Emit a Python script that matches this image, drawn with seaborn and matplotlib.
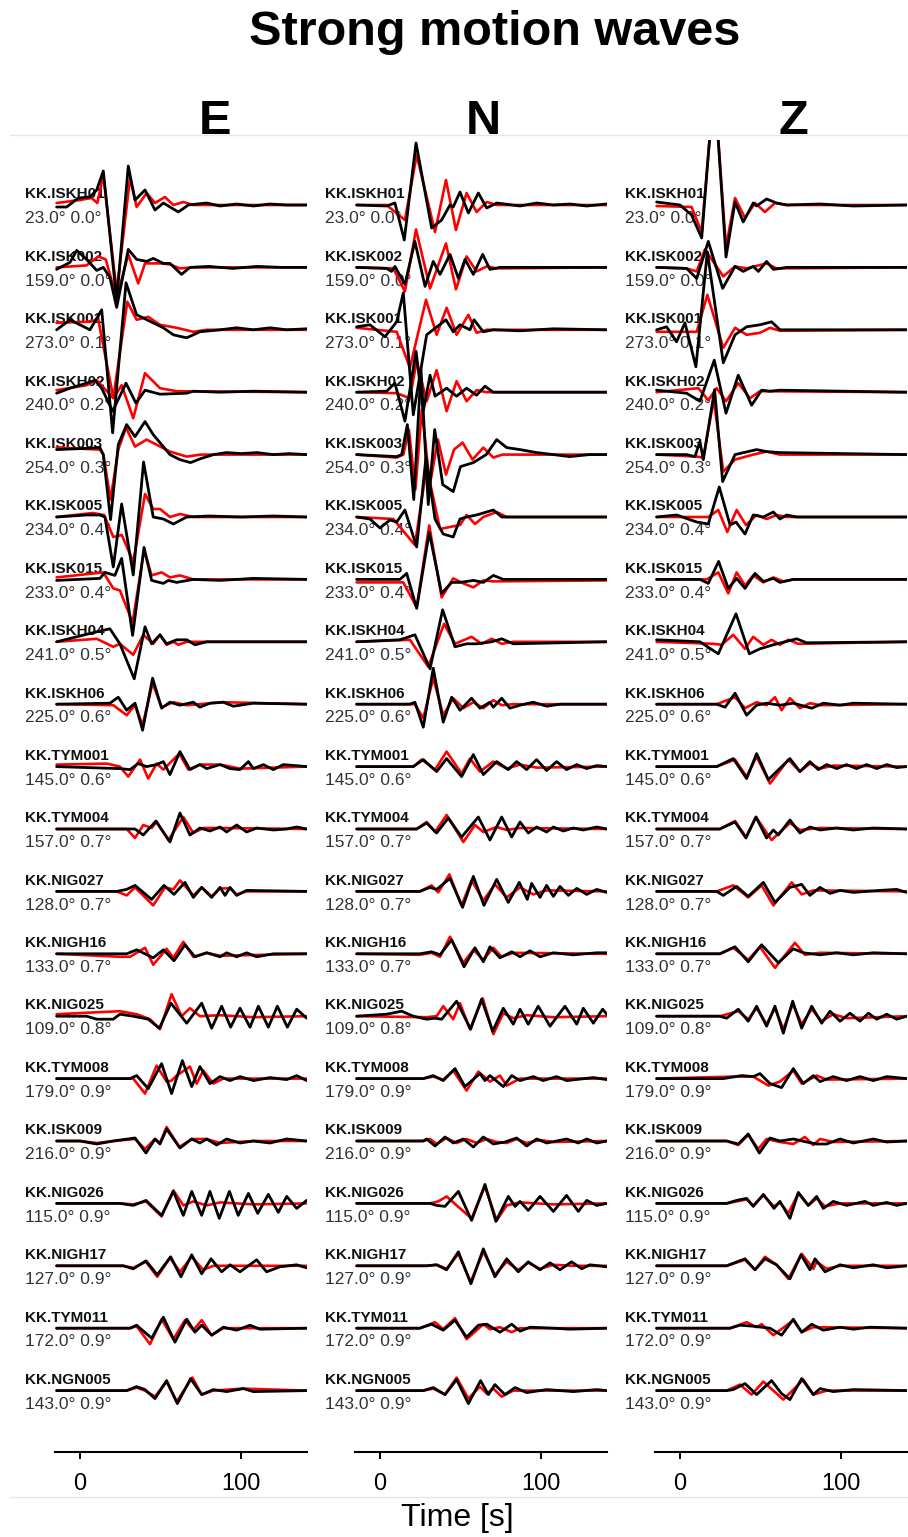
import matplotlib
matplotlib.use("Agg")
import matplotlib.pyplot as plt
from matplotlib.lines import Line2D
import pandas as pd
import seaborn as sns

# ---------------------------------------------------------------- stations
stations = ["KK.ISKH01", "KK.ISK002", "KK.ISK001", "KK.ISKH02", "KK.ISK003",
            "KK.ISK005", "KK.ISK015", "KK.ISKH04", "KK.ISKH06", "KK.TYM001",
            "KK.TYM004", "KK.NIG027", "KK.NIGH16", "KK.NIG025", "KK.TYM008",
            "KK.ISK009", "KK.NIG026", "KK.NIGH17", "KK.TYM011", "KK.NGN005"]
azimuths = [23.0, 159.0, 273.0, 240.0, 254.0, 234.0, 233.0, 241.0, 225.0, 145.0,
            157.0, 128.0, 133.0, 109.0, 179.0, 216.0, 115.0, 127.0, 172.0, 143.0]
distances = [0.0, 0.0, 0.1, 0.2, 0.3, 0.4, 0.4, 0.5, 0.6, 0.6,
             0.7, 0.7, 0.7, 0.8, 0.9, 0.9, 0.9, 0.9, 0.9, 0.9]
components = ["E", "N", "Z"]
time_ticks = [0, 100]

# ------------------------------------------------ waveforms: (time [s], amplitude)
obs_E = [
    [(-14.5,-2),(-8.3,-2),(-1,7),(6.2,8),(10.4,15),(14.5,34),(22.8,-95),(30,39),(34.2,5),(40.4,15),(46.6,-5),(51.8,2),(61.1,-7),(67.3,0),(78.7,2),(87,-1),(97.3,1),(107.7,-1),(118,1),(128.4,0),(140.8,0)],
    [(-14.5,-2),(-6.2,5),(-2,17),(4.1,8),(10.4,-3),(14.5,0),(18.6,-10),(22.8,-40),(30,18),(35.2,8),(41.4,6),(45.5,9),(51.8,4),(55.9,4),(63.1,-7),(68.3,0),(80,1),(95,-1),(110,1),(125,0),(140.8,0)],
    [(-14.5,0),(-6.2,10),(6.2,0),(13.5,20),(20.3,-103),(28.6,47),(35.2,15),(45.5,7),(51.8,2),(58,-5),(66.3,-8),(74.5,-2),(87,0),(97.3,2),(107.7,0),(118,2),(128.4,0),(140.8,1)],
    [(-14.5,-1),(-6.2,4),(4.1,9),(9.3,12),(13.5,4),(20.3,-19),(28.6,9),(34.8,-11),(40.4,2),(49.7,-2),(66.3,-1),(70.4,1),(87,0),(107.7,1),(140.8,0)],
    [(-14.5,5),(0,6),(12.4,7),(14.5,0),(19,-65),(23.8,10),(29,30),(34.2,18),(40.4,33),(45.5,20),(55.9,0),(62,-5),(68.7,-8),(75,-4),(83,0),(91,2),(100,1),(110,2),(120,0),(130,1),(140.8,0)],
    [(-14.5,0),(4.1,2),(12.4,2),(15.5,0),(20.7,-50),(25.9,13),(33.1,-58),(39.5,55),(45.5,0),(51.8,-2),(58,-7),(66.3,0),(80,1),(100,0),(120,1),(140.8,0)],
    [(-14.5,-1),(12.4,1),(15.5,7),(21.7,4),(25.9,21),(32.7,-56),(39.8,32),(44.5,-1),(51.8,-4),(54.9,-1),(60,-3),(70.4,0),(87,-1),(107.7,1),(140.8,0)],
    [(-14.5,0),(10.4,10),(18.6,13),(24.8,-2),(33.7,-37),(40.4,15),(44.5,-2),(49.7,7),(53.8,-2),(60,2),(66.3,2),(71.4,-3),(78.7,0),(140.8,0)],
    [(-14.5,0),(18.6,1),(23.8,7),(29,-6),(34.2,1),(38.9,-26),(45.1,26),(50.7,-4),(55.9,2),(62.1,-1),(70.4,2),(74.5,-3),(80.7,1),(89,2),(95.2,-2),(107.7,1),(140.8,0)],
    [(-14.5,0),(24.8,-2),(31.1,-3),(36.2,3),(41.4,0),(47.6,2),(51.8,5),(55.9,-8),(62.1,15),(68.3,-3),(74.5,2),(78.7,-2),(87,2),(93.2,-2),(99.4,-3),(104.6,5),(107.7,-2),(113.9,2),(120.1,-3),(126.3,2),(140.8,0)],
    [(-14.5,0),(29,0),(34.2,0),(39.3,-6),(47.2,8),(55.9,-13),(62.1,16),(68.3,-6),(74.5,1),(80.7,-2),(87,2),(91.1,-3),(97.3,4),(103.5,-3),(109.7,1),(120.1,-1),(128.4,0),(134.6,2),(140.8,0)],
    [(-14.5,0),(22.8,0),(29,2),(34.2,6),(44.5,-8),(52.2,6),(58.4,-3),(65.2,9),(70.4,-6),(75.6,4),(81.8,-6),(87,4),(90.1,-4),(93.2,4),(97.3,-4),(103.5,1),(140.8,0)],
    [(-14.5,0),(29,0),(35.2,4),(45.5,-4),(51.8,4),(58.4,-7),(65.2,9),(71.4,-3),(78.7,1),(87,-3),(91.1,1),(97.3,-3),(103.5,1),(109.7,-3),(120.1,0),(140.8,0)],
    [(-14.5,0),(4.1,0),(10.4,-3),(20.7,-3),(24.8,2),(33.1,0),(42.4,-3),(49.3,-12),(56.5,13),(66.3,-7),(75.6,13),(81.8,-12),(88,10),(93.6,-11),(99.4,8),(105.6,-11),(110.8,10),(117,-11),(122.6,10),(128.8,-11),(134.6,7),(140.8,-2)],
    [(-14.5,0),(31.1,0),(35.2,3),(42.4,-10),(50.7,15),(56.9,-15),(63.6,18),(69.4,-8),(74.5,12),(80.7,-5),(87,2),(93.2,-2),(99.4,2),(107.7,-2),(118,1),(128.4,-1),(134.6,3),(140.8,-2)],
    [(-14.5,0),(0,0),(10.4,-3),(20.7,0),(34.2,3),(41,-12),(46.6,2),(49.7,-3),(53.8,12),(62.1,-7),(69.4,2),(74.5,-2),(78.7,2),(84.9,-4),(91.1,2),(99.4,-2),(107.7,0),(118,-2),(128.4,2),(140.8,0)],
    [(-14.5,0),(24.8,0),(33.1,-2),(41,3),(50.7,-12),(58,12),(64.2,-12),(69.4,12),(75.6,-12),(80.7,12),(86.5,-15),(92.8,12),(98.3,-12),(104.6,10),(110.4,-10),(117,9),(123.2,-9),(128.4,7),(134.6,-5),(140.8,3)],
    [(-14.5,0),(26.9,0),(33.1,-3),(41,5),(48,-9),(56.3,9),(62.7,-11),(69.4,11),(75.6,-8),(81.4,7),(88,-6),(93.2,1),(99.4,-6),(109.7,6),(115.9,-6),(124.2,-1),(134.6,1),(140.8,-2)],
    [(-14.5,0),(31.1,0),(35.2,3),(44.5,-10),(51.8,11),(59,-14),(66.3,9),(71.4,-4),(75.6,3),(81.8,-7),(89,1),(97.3,-2),(105.6,3),(111.8,-1),(140.8,0)],
    [(-14.5,0),(29,0),(35.2,4),(40.4,1),(46.6,-8),(53.8,10),(60.5,-13),(68.7,12),(75.6,-4),(82.8,1),(91.1,-1),(101.4,2),(107.7,-1),(140.8,0)],
]
syn_E = [
    [(-14.5,2),(0,5),(7.2,7),(10.8,2),(14.5,30),(22.8,-87),(31.1,27),(35.2,-2),(41.4,12),(46.6,2),(52.8,8),(58,0),(64.2,3),(70.4,0),(140.8,0)],
    [(-14.5,0),(4.1,2),(11.4,11),(16,8),(22.8,-31),(30,13),(36.2,-16),(40.4,4),(49.7,4),(55.9,3),(62.1,-1),(70,0),(140.8,0)],
    [(-14.5,7),(4.1,8),(11.4,10),(20.7,-68),(29.4,28),(35.2,10),(42.4,13),(49.7,5),(60,2),(70.4,-2),(78.7,0),(140.8,0)],
    [(-14.5,2),(4.1,7),(10.4,12),(20.7,-6),(25.9,7),(33.1,-26),(40.4,19),(49.7,4),(60,1),(140.8,0)],
    [(-14.5,7),(12.4,5),(14.5,0),(19,-45),(23.8,5),(28.6,27),(34.2,8),(41.4,15),(55.9,3),(66.3,-2),(75,0),(140.8,0)],
    [(-14.5,0),(8,4),(15,2),(20.7,-20),(26,-18),(33.1,-45),(40.4,23),(45.5,8),(49.7,8),(55.9,0),(62.1,3),(70.4,0),(140.8,0)],
    [(-14.5,2),(14.5,7),(20.7,-9),(24.8,-11),(32.7,-43),(39.8,29),(44.5,4),(50.7,7),(55.9,2),(62.1,4),(70.4,0),(140.8,0)],
    [(-14.5,0),(10.4,3),(20.7,-5),(24.8,-2),(33.1,-13),(39.3,7),(45.5,-2),(49.7,7),(53.8,-3),(58,0),(61.1,-3),(66.3,0),(140.8,0)],
    [(-14.5,0),(20.7,-1),(29,-11),(34.2,-1),(38.9,-21),(45.1,21),(50.7,-3),(58,2),(66.3,-1),(89,2),(140.8,0)],
    [(-14.5,2),(16.6,3),(24.8,0),(30,-10),(37.3,7),(42.4,-12),(47.6,3),(51.8,-3),(61.7,13),(67.3,-3),(74.5,2),(87,2),(99.4,-2),(140.8,0)],
    [(-14.5,0),(29,0),(34.2,-9),(39.3,4),(44.5,1),(47.6,7),(54.9,-11),(64.2,12),(70.4,-4),(76.6,1),(87,1),(140.8,0)],
    [(-14.5,0),(22.8,0),(29,-4),(34.2,4),(45.5,-14),(52.8,4),(58,2),(62.1,11),(70.4,-4),(75.6,4),(81.8,-5),(87,3),(93.2,3),(97.3,-3),(103.5,0),(140.8,0)],
    [(-14.5,0),(24.8,-3),(31.1,-3),(40.4,6),(45.5,-11),(53.8,5),(58,-4),(64.2,12),(70.4,-3),(78.7,1),(87,-2),(140.8,0)],
    [(-14.5,2),(24.8,5),(35.2,2),(43.5,-3),(49.7,-13),(56.9,22),(63.1,0),(68.3,8),(74.5,0),(87,1),(107.7,-1),(140.8,0)],
    [(-14.5,0),(33.1,0),(40.4,-15),(47.6,13),(53.8,-3),(56.9,-2),(60,3),(68.3,12),(72.5,-5),(76.6,8),(82.8,-5),(89,0),(140.8,0)],
    [(-14.5,0),(0,0),(10.4,-2),(20.7,0),(34.2,2),(40.4,-8),(46.6,2),(49.7,-2),(53.8,14),(61.7,-6),(69.4,2),(78.7,2),(87,-2),(107.7,0),(140.8,0)],
    [(-14.5,0),(24.8,0),(33.1,-1),(41,2),(50.7,-13),(58,13),(64.2,-2),(70.4,2),(78.7,-2),(87,1),(107.7,-1),(140.8,0)],
    [(-14.5,0),(26.9,0),(33.1,-2),(41,4),(48,-11),(55.9,8),(62.1,-6),(69.4,9),(76.6,-4),(82.8,0),(140.8,0)],
    [(-14.5,0),(31.1,0),(35.2,2),(43.5,-16),(50.7,9),(58,-11),(65.2,8),(70.4,-2),(75.6,8),(81.8,-7),(89,0),(140.8,0)],
    [(-14.5,0),(29,0),(35.2,3),(40.4,0),(46.6,-6),(53.8,9),(60,-11),(69.8,13),(75.6,-4),(82.8,0),(101.4,2),(140.8,0)],
]
obs_N = [
    [(-14.5,0),(4.1,-1),(9.3,2),(15.1,-35),(22.4,62),(32.1,-23),(38.3,-15),(43.5,0),(45.5,-2),(49.7,13),(54.9,-8),(61.1,12),(66.3,-3),(72.5,2),(87,-1),(97.3,2),(107.7,0),(118,1),(128.4,-1),(140.8,1)],
    [(-14.5,0),(4.1,-1),(7.2,-4),(9.3,1),(15.5,-17),(21.7,26),(28,-19),(33.1,6),(37.3,-7),(43.5,13),(48.7,-11),(52.8,8),(58,-7),(63.8,13),(68.3,-2),(74.5,0),(140.8,0)],
    [(-14.5,3),(-6.2,5),(3.1,-7),(10.4,8),(14.5,37),(20.7,-85),(29,-5),(41,10),(45.5,-2),(49.7,5),(55.9,0),(58.4,10),(64.2,-2),(70.4,0),(87,-1),(107.7,1),(140.8,0)],
    [(-14.5,0),(4.1,1),(9.3,9),(15.5,-29),(22.4,41),(26.9,-19),(31.1,17),(34.2,-4),(41.4,4),(47.6,-4),(53.8,4),(60,-3),(65.2,6),(70.4,0),(140.8,0)],
    [(-14.5,0),(10.4,-2),(13.5,0),(17,30),(21,-45),(25.5,85),(30,-50),(34,25),(39,-30),(45.5,-37),(50,-12),(58,-8),(66,0),(72.5,15),(78.7,7),(87,5),(97.3,2),(107.7,0),(118,-2),(130,0),(140.8,0)],
    [(-14.5,0),(-6.2,-2),(0,-11),(6.2,-3),(10.4,-5),(15.5,7),(22.8,-30),(28.6,60),(34.2,-2),(39.3,-17),(45.5,-20),(49.7,-2),(53.8,0),(60,2),(70.4,7),(75.6,0),(87,0),(140.8,0)],
    [(-14.5,0),(12.4,0),(16.6,6),(22.8,-29),(30.6,47),(38.3,-14),(44.5,-3),(49.7,-3),(58,-1),(64.2,-3),(70.4,4),(76.6,0),(140.8,0)],
    [(-14.5,0),(12.4,2),(21.7,7),(31.1,-27),(38.9,32),(46.6,-5),(53.8,-2),(60,-2),(69.4,0),(75.6,3),(82.8,-2),(140.8,0)],
    [(-14.5,0),(18.6,0),(21.7,2),(26.9,-23),(33.1,36),(39.3,-18),(44.5,7),(49.7,-6),(56.9,6),(62.1,-4),(68.3,2),(70.4,-3),(75.6,6),(80.7,-4),(87,-1),(95.2,2),(103.5,-2),(111.8,0),(140.8,0)],
    [(-14.5,0),(20.7,0),(26.9,7),(35.2,-5),(41.4,8),(50.7,-10),(58,12),(64.2,-8),(72.5,5),(79.7,-3),(84.9,5),(91.1,-3),(97.3,7),(103.5,-4),(109.7,5),(115.9,-3),(122.2,2),(128.4,-2),(134.6,1),(140.8,0)],
    [(-14.5,0),(22.8,0),(29,6),(35.2,-4),(42.4,11),(50.7,-8),(61.1,12),(68.3,-11),(75.6,12),(81.8,-8),(87,7),(92.1,-4),(97.3,2),(103.5,-3),(107.7,2),(113.9,-2),(120.1,1),(126.3,-1),(134.6,2),(140.8,0)],
    [(-14.5,0),(24.8,0),(31.1,4),(35.2,2),(43.5,13),(51.3,-16),(58,15),(64.6,-14),(72.5,12),(79.7,-11),(86.5,9),(91.5,-8),(94.2,8),(99.4,-6),(103.5,6),(107.7,-5),(111.8,5),(117,-4),(122.2,3),(128.4,-3),(134.6,2),(140.8,-1)],
    [(-14.5,0),(24.8,0),(32.1,2),(37.3,-1),(44.5,14),(52.2,-13),(59,6),(64.2,-8),(68.3,7),(74.5,-4),(81.8,2),(87,-3),(93.2,3),(99.4,-3),(107.7,1),(120.1,-1),(134.6,1),(140.8,1)],
    [(-14.5,0),(4.1,2),(13.5,5),(20.7,0),(29,-3),(34.2,-2),(38.3,-3),(47.6,15),(56.3,-13),(63.1,17),(70,-15),(76.6,8),(82.8,-8),(87,7),(92.1,-8),(98.3,10),(105.6,-10),(114.9,10),(122.2,-8),(126.3,8),(132.5,-7),(138.3,7),(140.8,2)],
    [(-14.5,0),(26.9,0),(33.1,3),(39.3,-2),(46.6,10),(52.8,-8),(62.1,5),(65.2,-2),(68.3,3),(76.6,-8),(81.8,3),(87,-2),(95.2,2),(101.4,-2),(109.7,2),(115.9,-2),(132.5,1),(140.8,-1)],
    [(-14.5,0),(26.9,0),(29,2),(34.2,-5),(40.4,4),(45.5,-2),(51.8,2),(58,-6),(64.2,4),(70.4,-3),(77.6,-1),(84.9,3),(91.1,-5),(97.3,2),(103.5,-2),(115.9,2),(123.2,-2),(128.4,2),(134.6,-2),(140.8,0)],
    [(-14.5,0),(31.1,0),(35.2,-2),(40.4,-3),(48.7,12),(56.9,-17),(65.2,19),(72,-18),(79.7,7),(83.9,-3),(87,2),(92.1,-7),(99.4,7),(107.7,-8),(115.9,8),(123.2,-8),(128.4,3),(134.6,-2),(140.8,0)],
    [(-14.5,0),(29,0),(35.2,1),(41.4,-4),(48.7,14),(56.5,-18),(64.2,17),(71.4,-11),(78.7,7),(85.9,-6),(92.1,4),(99.4,-4),(105.6,3),(111.8,-4),(119,4),(125.3,-3),(130.4,1),(140.8,-1)],
    [(-14.5,0),(24.8,0),(32.1,4),(39.3,-2),(46.6,8),(53.8,-9),(61.1,3),(66.3,4),(74.5,-4),(81.8,4),(87,-3),(93.2,1),(107.7,0),(118,-1),(140.8,0)],
    [(-14.5,0),(26.9,0),(33.1,3),(40.4,-4),(47.6,11),(54.9,-13),(62.5,10),(67.3,-4),(71.4,6),(77.6,-4),(83.9,3),(91.1,-2),(103.5,1),(120.1,-1),(134.6,1),(140.8,0)],
]
syn_N = [
    [(-14.5,0),(4.1,0),(15.5,-15),(22.8,50),(34.2,-27),(41,25),(47.2,-25),(53.8,12),(60,-7),(66.3,3),(72.5,0),(140.8,0)],
    [(-14.5,0),(8.3,-1),(15.5,-24),(22.4,38),(31.1,-21),(41,24),(47.2,-22),(53.8,11),(60,-4),(66.3,1),(72.5,-1),(140.8,0)],
    [(-14.5,2),(10.4,-2),(18.6,-38),(28.6,30),(35.2,-5),(41.4,22),(47.6,-5),(54.9,15),(60,-3),(66.3,0),(140.8,0)],
    [(-14.5,0),(10.4,-1),(18.6,-6),(22.8,31),(29,-9),(35.2,22),(41.4,-19),(47.6,11),(53.8,-9),(60,2),(66.3,0),(140.8,0)],
    [(-14.5,0),(10.4,-3),(14.5,0),(18,25),(22,-35),(26,45),(31,-30),(36,15),(41,-20),(46,5),(51.3,12),(57.5,-5),(64.2,7),(70.4,-3),(76,0),(140.8,0)],
    [(-14.5,0),(8.3,-2),(21.7,-28),(29,50),(37.3,-12),(49.7,-8),(53.8,2),(59,-7),(64.2,0),(72.5,5),(78.7,0),(140.8,0)],
    [(-14.5,-3),(14.5,-3),(22.8,-28),(30.6,54),(38.3,-18),(45.5,1),(51.8,-4),(58,-8),(64.2,-1),(70.4,-2),(140.8,-1)],
    [(-14.5,0),(18.6,2),(30,-25),(39.8,18),(46.6,-2),(56.9,5),(63.1,-2),(69.4,3),(75.6,-2),(82.8,0),(140.8,0)],
    [(-14.5,0),(21.7,0),(26.9,-14),(33.1,26),(39.3,-11),(45.5,6),(51.8,-4),(58,2),(64.2,-4),(70.4,4),(75.6,-1),(82.8,0),(140.8,0)],
    [(-14.5,0),(20.7,0),(25.9,7),(34.2,-3),(41.4,15),(50.7,-7),(55.9,8),(62.1,-5),(70.4,5),(78.7,-2),(87,2),(97.3,-1),(140.8,0)],
    [(-14.5,0),(22.8,0),(29,7),(34.2,-3),(41.4,14),(51.8,-13),(59,4),(64.2,-3),(72.5,2),(78.7,-1),(87,1),(140.8,0)],
    [(-14.5,0),(24.8,0),(32.1,6),(36.2,-1),(43.1,17),(50.7,-14),(56.9,11),(64.2,-9),(71.4,7),(78.7,-6),(87,4),(95.2,-3),(103.5,1),(140.8,0)],
    [(-14.5,0),(24.8,-1),(32.1,1),(37.3,-3),(43.5,17),(51.8,-9),(58,4),(64.2,-6),(70.4,6),(75.6,-3),(82.8,1),(140.8,0)],
    [(-14.5,0),(29,-1),(35.2,0),(39.3,10),(45.5,-3),(49.7,13),(55.9,-13),(63.8,18),(70.4,-18),(76.6,3),(82.8,-2),(91.1,1),(107.7,-1),(140.8,0)],
    [(-14.5,0),(26.9,0),(33.1,2),(39.3,-1),(45.5,8),(53.8,-12),(61.1,7),(68.3,-3),(74.5,3),(78.7,-7),(87,0),(140.8,0)],
    [(-14.5,0),(26.9,0),(31.1,2),(35.2,-3),(41.4,3),(47.6,-2),(53.8,2),(60,-2),(66.3,2),(72.5,-1),(78.7,-2),(84.9,2),(91.1,-2),(99.4,1),(107.7,-1),(140.8,0)],
    [(-14.5,0),(31.1,0),(36.2,2),(41.4,7),(47.6,-2),(56.9,-15),(65.2,17),(72.5,-17),(78.7,-2),(87,1),(107.7,-1),(140.8,0)],
    [(-14.5,0),(29,0),(35.2,1),(41.4,-3),(48.7,12),(56.3,-16),(64.2,14),(71.4,-9),(78.7,4),(85.9,-4),(92.1,3),(99.4,-3),(107.7,1),(120.1,0),(140.8,0)],
    [(-14.5,0),(24.8,0),(34.2,6),(39.3,-1),(46.6,10),(53.8,-11),(64.2,4),(68.3,-1),(74.5,1),(81.8,-4),(87,0),(140.8,0)],
    [(-14.5,0),(26.9,0),(33.1,2),(40.4,-4),(47.6,13),(54.9,-8),(62.1,4),(66.3,-3),(70.4,2),(75.6,-6),(82.8,0),(140.8,0)],
]
obs_Z = [
    [(-14.5,3),(0,0),(7.2,-10),(13.5,-33),(21.3,125),(28.6,-52),(34.2,3),(39.3,-17),(45.5,2),(47.6,-1),(53.8,6),(60,2),(66.3,0),(87,1),(107.7,-1),(140.8,0)],
    [(-14.5,0),(4.1,-1),(10.4,-11),(17.6,26),(26.5,-21),(34.2,1),(39.3,-4),(45.5,1),(48.7,-4),(53.8,6),(58,-2),(66.3,0),(140.8,0)],
    [(-14.5,0),(-8.3,3),(-2.1,-12),(3.1,7),(9.9,-37),(17,78),(26.9,-33),(34.2,-5),(41.4,3),(49.7,5),(56.9,8),(62.1,0),(87,0),(140.8,0)],
    [(-14.5,2),(4.1,-1),(12.4,-9),(21.3,32),(28.6,-21),(36.2,17),(44.5,-13),(50.7,2),(55.9,1),(62.1,2),(140.8,0)],
    [(-14.5,0),(4.1,0),(9.3,-2),(12.4,13),(14.5,-5),(21.5,65),(26.5,-27),(34.2,0),(47.6,5),(53.8,3),(62.1,2),(140.8,0)],
    [(-14.5,0),(-2.1,2),(10.4,-5),(17.6,-7),(24.4,30),(31.1,-8),(34.8,-5),(40.4,-17),(45.5,2),(51.8,0),(58,5),(62.1,-2),(66.3,2),(72.5,0),(140.8,0)],
    [(-14.5,0),(12.4,0),(17.6,-4),(24,18),(30,-9),(35.2,1),(40.4,-9),(46.6,6),(51.8,-2),(58,1),(62.1,-3),(70.4,0),(140.8,0)],
    [(-14.5,2),(12.4,0),(23.8,-12),(34.8,28),(43.1,-12),(49.7,-7),(58,-3),(72.5,3),(78.7,-1),(140.8,0)],
    [(-14.5,0),(22.8,0),(28,-3),(34.2,11),(41.4,-11),(47.6,-1),(53.8,1),(62.1,-1),(70.4,1),(81.8,-4),(89,1),(99.4,-1),(107.7,1),(140.8,0)],
    [(-14.5,0),(22.8,0),(33.1,8),(41.4,-12),(47.6,13),(54.9,-13),(68.3,8),(74.5,-5),(80.7,5),(85.9,-3),(91.1,2),(97.3,-2),(103.5,2),(109.7,-2),(115.9,2),(122.2,-2),(128.4,2),(134.6,-1),(140.8,0)],
    [(-14.5,0),(24.8,0),(34.2,7),(41,-9),(47.2,12),(53.8,-9),(58,-1),(61.1,-6),(68.3,9),(74.5,-4),(80.7,2),(87,-1),(97.3,1),(107.7,-1),(120.1,1),(140.8,0)],
    [(-14.5,0),(22.8,0),(26.9,-4),(35.2,5),(42.4,-5),(51.8,9),(59,-11),(68.3,4),(75.6,7),(80.7,-4),(87,4),(93.2,-2),(99.4,1),(107.7,-1),(124.2,1),(134.6,2),(140.8,-1)],
    [(-14.5,0),(24.8,0),(34.2,7),(42.4,-8),(50.7,9),(61.1,-9),(70.4,5),(76.6,1),(87,-1),(97.3,1),(107.7,-1),(120.1,1),(140.8,0)],
    [(-14.5,0),(24.8,0),(29,-2),(36.2,7),(42.4,-5),(47.6,10),(53.8,-10),(59,10),(64.2,-17),(70,15),(75.6,-12),(81.8,10),(88,-7),(93.2,5),(99.4,-5),(105.6,3),(111.8,-5),(117,3),(122.2,-3),(128.4,2),(134.6,-3),(140.8,0)],
    [(-14.5,0),(26.9,0),(38.3,3),(45.5,2),(49.7,5),(55.9,-5),(63.1,-9),(70.4,10),(76.6,-5),(82.8,3),(87,-3),(95.2,2),(103.5,-2),(111.8,2),(120.1,-2),(128.4,2),(140.8,0)],
    [(-14.5,0),(29,0),(36.2,-3),(42.4,7),(49.3,-12),(55.9,3),(62.1,0),(70.4,2),(78.7,-1),(84.9,-3),(91.1,-3),(99.4,2),(107.7,-2),(120.1,2),(128.4,-1),(140.8,0)],
    [(-14.5,0),(29,0),(35.2,3),(41.4,5),(45.5,-3),(51.8,9),(58.4,-5),(62.1,2),(68.3,-15),(73.5,11),(79.7,-2),(84.9,7),(89,-5),(95.2,2),(103.5,-2),(114.9,2),(120.1,-2),(128.4,1),(134.6,-2),(140.8,0)],
    [(-14.5,0),(29,0),(40.4,7),(46.6,-4),(52.8,7),(60,1),(68.3,-13),(75.2,11),(80.7,-4),(83.9,7),(90.1,-6),(99.4,1),(107.7,-2),(120.1,1),(128.4,-2),(140.8,0)],
    [(-14.5,0),(31.1,0),(37.3,3),(45.5,2),(55.9,0),(63.1,-7),(70.4,9),(75.6,-4),(81.8,4),(89,-2),(99.4,1),(107.7,-1),(118,1),(140.8,0)],
    [(-14.5,0),(29,0),(33.1,1),(40.4,7),(47.6,-4),(56.9,10),(63.1,-3),(68.3,-9),(75.6,12),(82.8,-4),(87,2),(95.2,-1),(107.7,1),(140.8,0)],
]
syn_Z = [
    [(-14.5,-1),(7.2,-2),(13.5,-27),(21.3,120),(28.6,-42),(34.2,7),(40.4,-13),(46.6,2),(52.8,-7),(59,2),(66.3,0),(140.8,0)],
    [(-14.5,0),(4.1,-1),(10.4,-4),(15.5,18),(26.9,-9),(34.2,1),(41.4,-1),(53.8,4),(60,-1),(140.8,0)],
    [(-14.5,-2),(10.4,-2),(17,35),(26.9,-18),(34.2,2),(41.4,-5),(49.7,-3),(55.9,2),(62.1,-1),(140.8,0)],
    [(-14.5,0),(11.4,4),(17.6,-8),(22.8,4),(28.6,-9),(36.2,9),(43.5,-6),(49.7,1),(140.8,0)],
    [(-14.5,0),(10.4,-2),(14.5,-3),(21,55),(26.9,-17),(34.2,-5),(45.5,0),(53.8,3),(62,0),(140.8,0)],
    [(-14.5,0),(17.6,0),(23.8,7),(29.4,-15),(35.2,7),(41,-8),(47.6,2),(53.8,-2),(60,2),(66.3,0),(140.8,0)],
    [(-14.5,0),(16.6,0),(23.8,7),(30,-14),(35.2,7),(40.4,-6),(45.5,4),(51.8,-3),(58,2),(64.2,-2),(70.4,0),(140.8,0)],
    [(-14.5,0),(20.7,-2),(25.9,-3),(33.1,7),(40.4,-7),(45.5,5),(51.8,-3),(56.9,2),(62.1,-3),(67.3,2),(73.5,-2),(140.8,0)],
    [(-14.5,0),(22.8,0),(34.2,7),(40.4,-4),(47.6,2),(53.8,-1),(59,7),(63.1,-6),(68.3,6),(74.5,-4),(80.7,1),(87,-1),(140.8,0)],
    [(-14.5,0),(22.8,0),(34.2,7),(41.4,-10),(47.6,10),(55.9,-17),(67.3,7),(74.5,-5),(80.7,3),(87,-2),(95.2,1),(140.8,0)],
    [(-14.5,0),(24.8,0),(34.2,8),(41,-8),(47.2,12),(56.9,-11),(68.3,6),(74.5,-1),(87,1),(140.8,0)],
    [(-14.5,0),(22.8,0),(33.1,6),(42.4,-6),(50.7,6),(58,-14),(69.4,9),(75.6,-3),(82.8,1),(140.8,0)],
    [(-14.5,0),(24.8,0),(33.1,6),(42.4,-6),(49.7,7),(59,-14),(71.4,11),(77.6,-1),(87,1),(140.8,0)],
    [(-14.5,0),(24.8,0),(36.2,5),(42.4,-3),(47.6,8),(53.8,-8),(59,8),(64.2,-13),(70,12),(75.6,-8),(81.8,7),(88,-5),(95.2,2),(103.5,-2),(140.8,0)],
    [(-14.5,0),(33.1,2),(45.5,2),(54.9,-7),(62.1,-3),(70.4,8),(75.6,-5),(84.9,3),(91.1,-1),(140.8,0)],
    [(-14.5,0),(29,0),(36.2,-4),(42.4,6),(48.7,-8),(53.8,2),(62.1,-1),(70.4,-3),(77.6,4),(82.8,-4),(87,2),(95.2,-1),(140.8,0)],
    [(-14.5,0),(29,0),(35.2,2),(41.4,4),(45.5,-2),(51.8,8),(58.4,-3),(62.1,1),(67.3,-10),(73.5,10),(79.7,-2),(84.9,5),(90.1,-3),(99.4,0),(140.8,0)],
    [(-14.5,0),(29,0),(40.4,6),(46.6,-4),(52.8,9),(60,1),(67.3,-13),(75.6,12),(82.8,-3),(84.9,4),(91.1,-3),(99.4,0),(140.8,0)],
    [(-14.5,0),(31.1,0),(41.4,6),(47.6,1),(50.7,4),(58,-7),(70.4,8),(75.6,-4),(82.8,1),(140.8,0)],
    [(-14.5,0),(29,0),(37.3,6),(44.5,-4),(51.8,9),(64.2,-9),(76.6,11),(82.8,-4),(91.1,0),(140.8,0)],
]

# ----------------------------------------------------------------- styling
ROW_GAP = 62.4          # vertical distance between neighbouring station traces
SYN_COLOR = "#ff0000"
OBS_COLOR = "#000000"

sns.set_style("white")
plt.rcParams["font.family"] = ["Liberation Sans", "DejaVu Sans"]
plt.rcParams["text.color"] = "black"
plt.rcParams["xtick.color"] = "black"
plt.rcParams["axes.labelcolor"] = "black"

# Long table of every trace, shifted to its station row
records = []
for comp, obs, syn in zip(components, (obs_E, obs_N, obs_Z), (syn_E, syn_N, syn_Z)):
    for i, st in enumerate(stations):
        for kind, trace in (("syn", syn[i]), ("obs", obs[i])):
            for t, a in trace:
                records.append({"component": comp, "station": st, "kind": kind,
                                "time": t, "trace": a - i * ROW_GAP})
df = pd.DataFrame(records)

W, H = 908, 1537
fig = plt.figure(figsize=(W / 100, H / 100), dpi=100)

ax_top, ax_bottom = 140, 1452
col_left = {"E": 55, "N": 355, "Z": 655}
col_head = {"E": 215, "N": 483, "Z": 793}
ax_w = 252

for comp in components:
    ax = fig.add_axes([col_left[comp] / W, 1 - ax_bottom / H, ax_w / W,
                       (ax_bottom - ax_top) / H])
    sub = df[df["component"] == comp]
    sns.lineplot(data=sub[sub["kind"] == "syn"], x="time", y="trace", units="station",
                 estimator=None, sort=False, color=SYN_COLOR, linewidth=1.9,
                 solid_joinstyle="round", solid_capstyle="round",
                 ax=ax, legend=False, zorder=2)
    sns.lineplot(data=sub[sub["kind"] == "obs"], x="time", y="trace", units="station",
                 estimator=None, sort=False, color=OBS_COLOR, linewidth=2.0,
                 solid_joinstyle="round", solid_capstyle="round",
                 ax=ax, legend=False, zorder=3)

    ax.set_xlim(-15.5, 141)
    ax.set_ylim(-(ax_bottom - 205), 205 - ax_top)
    ax.set_xlabel("")
    ax.set_ylabel("")
    ax.set_yticks([])
    ax.set_xticks(time_ticks)
    ax.tick_params(axis="x", direction="out", length=5, width=1.4, color="black",
                   labelcolor="black", labelsize=17, pad=10, bottom=True)
    for side in ("left", "top", "right"):
        ax.spines[side].set_visible(False)
    ax.spines["bottom"].set_linewidth(1.5)
    ax.spines["bottom"].set_color("black")
    ax.patch.set_alpha(0)

    for i, st in enumerate(stations):
        base = -i * ROW_GAP
        ax.text(-34.1, base + 6.7, st, fontsize=11, fontweight="bold", color="#111111",
                ha="left", va="baseline", clip_on=False, zorder=1)
        ax.text(-34.1, base - 18.3, f"{azimuths[i]:.1f}\u00b0 {distances[i]:.1f}\u00b0",
                fontsize=12.5, color="#333333", ha="left", va="baseline",
                clip_on=False, zorder=1)

    fig.text(col_head[comp] / W, 1 - 134 / H, comp, fontsize=35, fontweight="bold",
             color="black", ha="center", va="baseline")

fig.text(495 / W, 1 - 45 / H, "Strong motion waves", fontsize=35, fontweight="bold",
         color="black", ha="center", va="baseline")
fig.text(457 / W, 1 - 1518 / H, "Time [s]", fontsize=23, color="black",
         ha="center", va="center")

for yy in (135, 1497):
    fig.add_artist(Line2D([10 / W, 1.0], [1 - yy / H] * 2, color="#e6e6e6", linewidth=1))

fig.savefig("out.png", dpi=100)
